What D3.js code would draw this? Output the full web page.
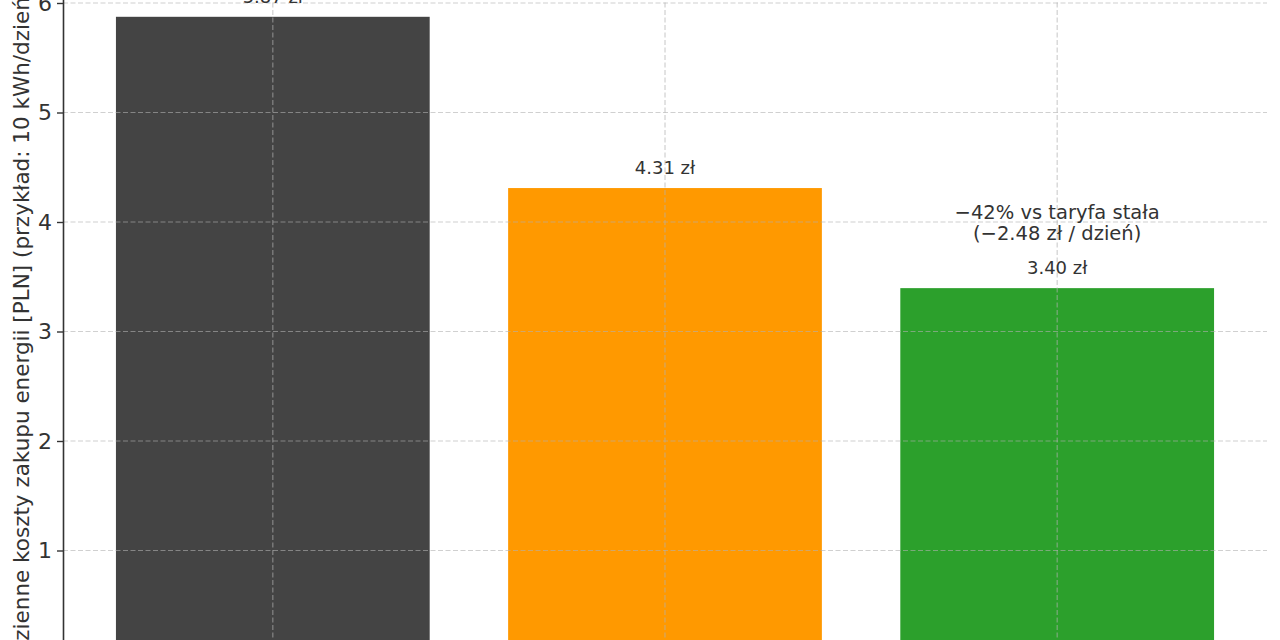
<!DOCTYPE html>
<html>
<head>
<meta charset="utf-8">
<script src="https://cdn.jsdelivr.net/npm/d3@7"></script>
<style>
  body { margin: 0; background: #fff; }
  svg { display: block; overflow: hidden; }
</style>
</head>
<body>
<div id="chart"></div>
<script>
// values (PLN per day, 10 kWh/day example)
const categories = ["Taryfa stała", "Taryfa dynamiczna", "Dynamiczna + magazyn"];
const costs = [5.874, 4.31, 3.396];
const barColors = ["#444444", "#ff9900", "#2ca02c"];
const yTicks = [0, 1, 2, 3, 4, 5, 6];
const yLabel = "Dzienne koszty zakupu energii [PLN] (przykład: 10 kWh/dzień)";
const noteLines = ["−42% vs taryfa stała", "(−2.48 zł / dzień)"];

function drawChart(targetElementId) {
    const W = 1280, H = 640;
    const svg = d3.select(`#${targetElementId}`).append("svg")
        .attr("width", W)
        .attr("height", H)
        .attr("font-family", "DejaVu Sans, sans-serif");

    // plot area is larger than the window: the picture is a crop
    const x = d3.scaleBand()
        .domain(categories)
        .range([63, 1267])
        .paddingInner(0.2)
        .paddingOuter(0.135);

    const y = d3.scaleLinear()
        .domain([0, 6.5])
        .range([660, 660 - 6.5 * 109.5]);

    const data = categories.map((c, i) => ({ cat: c, v: costs[i], color: barColors[i] }));

    // bars
    svg.selectAll(".bar")
        .data(data)
        .enter()
        .append("rect")
            .attr("class", "bar")
            .attr("x", d => x(d.cat))
            .attr("width", x.bandwidth())
            .attr("y", d => y(d.v))
            .attr("height", d => y(0) - y(d.v))
            .attr("fill", d => d.color);

    // grid on top of the bars, dashed
    svg.selectAll(".hgrid")
        .data(yTicks)
        .enter()
        .append("line")
            .attr("class", "hgrid")
            .attr("x1", x.range()[0])
            .attr("x2", x.range()[1])
            .attr("y1", d => y(d))
            .attr("y2", d => y(d))
            .attr("stroke", "rgb(176,176,176)")
            .attr("stroke-opacity", 0.6)
            .attr("stroke-width", 1.2)
            .attr("stroke-dasharray", "5,2.5");

    svg.selectAll(".vgrid")
        .data(categories)
        .enter()
        .append("line")
            .attr("class", "vgrid")
            .attr("x1", d => x(d) + x.bandwidth() / 2)
            .attr("x2", d => x(d) + x.bandwidth() / 2)
            .attr("y1", y(0))
            .attr("y2", y.range()[1])
            .attr("stroke", "rgb(176,176,176)")
            .attr("stroke-opacity", 0.6)
            .attr("stroke-width", 1.2)
            .attr("stroke-dasharray", "5,2.5");

    // y axis
    svg.append("g")
        .attr("transform", `translate(${x.range()[0]},0)`)
        .call(d3.axisLeft(y).tickValues(yTicks).tickSize(6).tickPadding(5).tickFormat(d3.format("d")))
        .call(g => g.select(".domain").attr("stroke", "#333").attr("stroke-width", 1.6))
        .call(g => g.selectAll(".tick line").attr("stroke", "#333").attr("stroke-width", 1.4))
        .call(g => g.selectAll("text")
            .attr("font-size", 22)
            .attr("font-family", "DejaVu Sans, sans-serif")
            .attr("fill", "#333"));

    // x axis (falls below the crop)
    svg.append("g")
        .attr("transform", `translate(0,${y(0)})`)
        .call(d3.axisBottom(x).tickSize(6))
        .call(g => g.selectAll("text").attr("font-size", 20).attr("fill", "#333"));

    // y label
    svg.append("text")
        .attr("transform", `translate(29,323) rotate(-90)`)
        .attr("text-anchor", "middle")
        .attr("font-size", 21.5)
        .attr("fill", "#333")
        .text(yLabel);

    // value labels
    svg.selectAll(".val")
        .data(data)
        .enter()
        .append("text")
            .attr("class", "val")
            .attr("x", d => x(d.cat) + x.bandwidth() / 2)
            .attr("y", d => y(d.v) - 14)
            .attr("text-anchor", "middle")
            .attr("font-size", 18)
            .attr("fill", "#333")
            .text(d => `${d.v.toFixed(2)} zł`);

    // note above the last bar
    const last = data[data.length - 1];
    svg.append("text")
        .attr("x", x(last.cat) + x.bandwidth() / 2)
        .attr("y", y(last.v) - 69)
        .attr("text-anchor", "middle")
        .attr("font-size", 19.5)
        .attr("fill", "#333")
        .selectAll("tspan")
        .data(noteLines)
        .enter()
        .append("tspan")
            .attr("x", x(last.cat) + x.bandwidth() / 2)
            .attr("dy", (d, i) => i === 0 ? 0 : 21)
            .text(d => d);
}

drawChart("chart");
</script>
</body>
</html>
